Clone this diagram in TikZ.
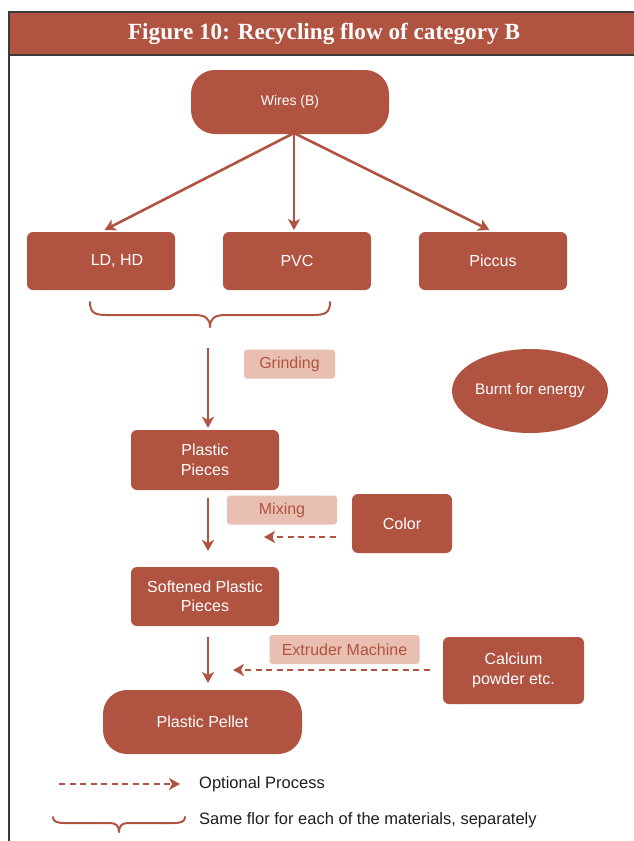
\documentclass[tikz,border=0pt]{standalone}
\usepackage{fontspec}
\setmainfont{Liberation Sans}
\newfontfamily\titlefont{Liberation Serif}
\usetikzlibrary{arrows.meta,shapes.geometric}
\definecolor{brick}{HTML}{B05341}
\definecolor{blush}{HTML}{E8BFB1}
\definecolor{framegray}{HTML}{3A3A3A}
\definecolor{legendtext}{HTML}{1E1E1E}

\tikzset{
  box/.style={fill=brick, text=white, rounded corners=6pt, inner sep=0pt,
    align=center, font=\fontsize{16}{19.5}\selectfont},
  pill/.style={box, rounded corners=24pt},
  tag/.style={fill=blush, text=brick, rounded corners=3pt, inner sep=0pt,
    font=\fontsize{16}{19}\selectfont},
  flow/.style={draw=brick, line width=2.6pt, -{Stealth[length=11pt,width=12pt,inset=3pt]}},
  optional/.style={flow, line width=2.4pt, dash pattern=on 6pt off 4.5pt},
  curly/.style={draw=brick, line width=2pt, line cap=round, line join=round},
  legend/.style={text=legendtext, anchor=west, inner sep=0pt, font=\fontsize{16.5}{19}\selectfont}
}

\begin{document}
\begin{tikzpicture}[x=1pt,y=-1pt]
\useasboundingbox (0,0) rectangle (633,841);

% header bar and left frame line
\draw[framegray, line width=2pt, fill=brick] (9,12) rectangle (645,55);
\draw[framegray, line width=2pt] (9,55) -- (9,845);
\node[text=white, font=\titlefont\bfseries\fontsize{23.2}{27}\selectfont] (title) at (324,34) {Figure 10: Recycling flow of category B};

% source
\node[pill, font=\fontsize{14}{17}\selectfont, minimum width=198pt, minimum height=64pt] (wires) at (290,102) {Wires (B)};
\coordinate (src) at (294,133);

% materials
\node[box, minimum width=148pt, minimum height=58pt] (ldhd) at (101,261) {\hspace{32pt}LD, HD};
\node[box, minimum width=148pt, minimum height=58pt] (pvc) at (297,261) {PVC};
\node[box, minimum width=148pt, minimum height=58pt] (piccus) at (493,261) {Piccus};

\draw[flow, shorten >=4pt] (src) -- (ldhd.north);
\draw[flow, shorten >=2pt] (src) -- (294,232);
\draw[flow, shorten >=4pt] (src) -- (piccus.north);

% brace under LD, HD and PVC
\draw[curly] (90,302) .. controls (90,312) and (94,315) .. (106,315)
  -- (194,315) .. controls (205,315) and (210,318) .. (210,327)
  .. controls (210,318) and (215,315) .. (226,315)
  -- (314,315) .. controls (326,315) and (330,312) .. (330,302);

% grinding step
\coordinate (g1) at (208,348);
\node[tag, minimum width=91pt, minimum height=29pt] (grind) at (289.5,364) {Grinding};
\node[ellipse, fill=brick, text=white, inner sep=0pt, minimum width=156pt, minimum height=84pt,
  font=\fontsize{15.3}{18}\selectfont] (burnt) at (530,391) {Burnt for energy};

\node[box, minimum width=148pt, minimum height=60pt] (pieces) at (205,460) {Plastic\\Pieces};
\draw[flow, shorten >=2pt] (g1) -- (pieces.north -| g1);

% mixing step
\node[tag, minimum width=110pt, minimum height=29pt] (mixing) at (282,510) {Mixing};
\node[box, minimum width=100pt, minimum height=59pt] (color) at (402,523.5) {Color};
\node[box, minimum width=148pt, minimum height=59pt] (soft) at (205,596.5) {Softened Plastic\\Pieces};
\draw[flow] (208,498) -- (208,551);
\coordinate (c1) at (264,537);
\draw[optional] (color.west |- c1) ++(-16,0) -- (c1);

% extrusion step
\node[tag, minimum width=150pt, minimum height=29pt] (extruder) at (344.5,649.5) {Extruder Machine};
\node[box, minimum width=141pt, minimum height=67pt] (calcium) at (513.5,670.5) {Calcium\\powder etc.};
\node[pill, minimum width=199pt, minimum height=64pt] (pellet) at (202.5,722) {Plastic Pellet};
\draw[flow] (208,637) -- (208,683);
\coordinate (c2) at (233,670);
\draw[optional] (calcium.west |- c2) ++(-13,0) -- (c2);

% legend
\coordinate (l1) at (59,784);
\coordinate (l2) at (180,784);
\draw[optional] (l1) -- (l2);
\node[legend] (optlabel) at (199,784) {Optional Process};
\draw[curly] (53,817) .. controls (53,821) and (56,823) .. (64,823)
  -- (110,823) .. controls (116,823) and (119,826) .. (119,832)
  .. controls (119,826) and (122,823) .. (128,823)
  -- (174,823) .. controls (182,823) and (185,821) .. (185,817);
\node[legend] (bracelabel) at (199,820) {Same flor for each of the materials, separately};
\end{tikzpicture}
\end{document}
